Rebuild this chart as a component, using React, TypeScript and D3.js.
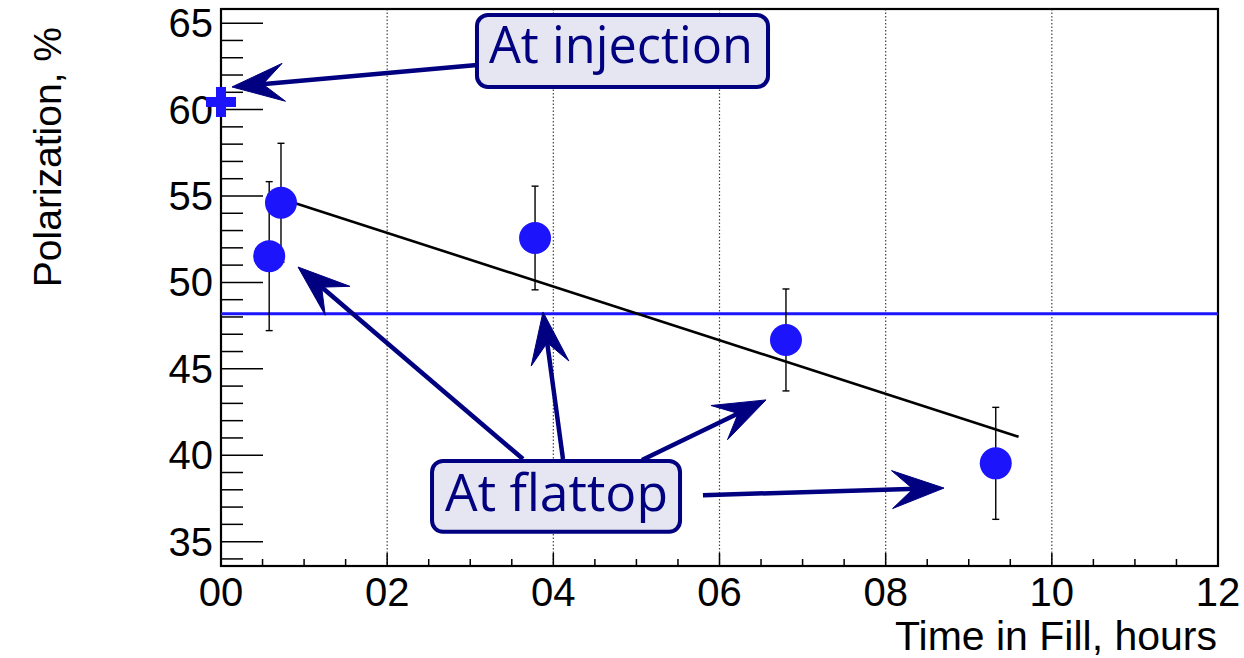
import React from "react";
import * as d3 from "d3";

// ---- data ----
const xTickValues = [0, 2, 4, 6, 8, 10, 12];
const xTickLabels = ["00", "02", "04", "06", "08", "10", "12"];
const yTickValues = [35, 40, 45, 50, 55, 60, 65];
const yTickLabels = ["35", "40", "45", "50", "55", "60", "65"];

const pointX = [0.58, 0.722, 3.78, 6.8, 9.325];
const pointY = [51.52, 54.61, 52.57, 46.67, 39.53];
const pointErr = [4.31, 3.44, 3.0, 2.95, 3.24];

const injectionX = [0];
const injectionY = [60.44];

const flattopLevel = [48.18];

const fitX = [0.56, 9.6];
const fitY = [55.1, 41.07];

// annotations (in data units: hours, %)
const boxes = [
  { label: "At injection", x0: 3.081, x1: 6.584, y0: 65.47, y1: 61.31, tx0: 3.225, tx1: 6.403, ty: 62.7 },
  { label: "At flattop", x0: 2.54, x1: 5.525, y0: 39.67, y1: 35.57, tx0: 2.696, tx1: 5.38, ty: 36.76 },
];
const arrows = [
  { fx: 3.081, fy: 62.58, tx: 0.132, ty: 61.31 },
  { fx: 3.635, fy: 39.78, tx: 0.927, ty: 50.89 },
  { fx: 4.116, fy: 39.78, tx: 3.876, ty: 48.29 },
  { fx: 5.067, fy: 39.72, tx: 6.56, ty: 43.2 },
  { fx: 5.801, fy: 37.69, tx: 8.702, ty: 38.1 },
];

const W = 1244;
const H = 658;
const L = 221, R = 1218, T = 9, B = 566;

export default function App() {
  const x = d3.scaleLinear().domain([0, 12]).range([L, R]);
  const y = d3.scaleLinear().domain([33.59, 65.82]).range([B, T]);

  const blue = "#1c14fb";
  const navy = "#000080";

  const xMinor = d3.range(0, 12.001, 0.5).filter((v) => Math.abs(v % 2) > 1e-6);
  const yMinor = d3.range(34, 65.5, 1).filter((v) => v % 5 !== 0);

  const line = d3.line<number>().x((_, i) => x(fitX[i])).y((_, i) => y(fitY[i]));

  const arrowHead = (a: typeof arrows[0]) => {
    const x1 = x(a.fx), y1 = y(a.fy), x2 = x(a.tx), y2 = y(a.ty);
    const dx = x2 - x1, dy = y2 - y1;
    const len = Math.hypot(dx, dy);
    const ux = dx / len, uy = dy / len;
    const nx = -uy, ny = ux;
    const Lh = 52, Wh = 19, N = 31;
    const bx = x2 - Lh * ux, by = y2 - Lh * uy;
    const mx = x2 - N * ux, my = y2 - N * uy;
    return {
      shaft: `M${x1},${y1}L${mx + 4 * ux},${my + 4 * uy}`,
      head: `M${x2},${y2}L${bx + Wh * nx},${by + Wh * ny}L${mx},${my}L${bx - Wh * nx},${by - Wh * ny}Z`,
    };
  };

  return (
    <svg width={W} height={H} style={{ position: "absolute", left: 0, top: 0, background: "#fff" }}
      fontFamily="'Liberation Sans', Arial, sans-serif">
      <rect x={0} y={0} width={W} height={H} fill="#fff" />
      {/* grid */}
      {xTickValues.slice(1, -1).map((v) => (
        <line key={"g" + v} x1={x(v)} x2={x(v)} y1={T} y2={B} stroke="#444" strokeWidth={1.2} strokeDasharray="1.5,2" />
      ))}
      {/* x ticks */}
      {xTickValues.map((v) => (
        <line key={"xt" + v} x1={x(v)} x2={x(v)} y1={B} y2={B - 13} stroke="#000" strokeWidth={1.5} />
      ))}
      {xMinor.map((v) => (
        <line key={"xm" + v} x1={x(v)} x2={x(v)} y1={B} y2={B - 7} stroke="#000" strokeWidth={1.5} />
      ))}
      {/* y ticks */}
      {yTickValues.map((v) => (
        <line key={"yt" + v} x1={L} x2={L + 42} y1={y(v)} y2={y(v)} stroke="#000" strokeWidth={1.5} />
      ))}
      {yMinor.map((v) => (
        <line key={"ym" + v} x1={L} x2={L + 22} y1={y(v)} y2={y(v)} stroke="#000" strokeWidth={1.5} />
      ))}
      {/* frame */}
      <rect x={L} y={T} width={R - L} height={B - T} fill="none" stroke="#000" strokeWidth={2.2} />
      {/* tick labels */}
      {xTickValues.map((v, i) => (
        <text key={"xl" + v} x={x(v)} y={606} textAnchor="middle" fontSize={40}>{xTickLabels[i]}</text>
      ))}
      {yTickValues.map((v, i) => (
        <text key={"yl" + v} x={213} y={y(v) + 14} textAnchor="end" fontSize={40}>{yTickLabels[i]}</text>
      ))}
      {/* axis titles */}
      <text x={1217} y={650} textAnchor="end" fontSize={41}>Time in Fill, hours</text>
      <text transform={`translate(61,27) rotate(-90)`} textAnchor="end" fontSize={39}>Polarization, %</text>

      {/* flattop level */}
      {flattopLevel.map((v, i) => (
        <line key={"fl" + i} x1={L} x2={R} y1={y(v)} y2={y(v)} stroke={blue} strokeWidth={3} />
      ))}
      {/* fit */}
      <path d={line(fitX) || ""} fill="none" stroke="#000" strokeWidth={2.6} />
      {/* error bars */}
      {pointX.map((v, i) => (
        <g key={"e" + i} stroke="#000" strokeWidth={1.4}>
          <line x1={x(v)} x2={x(v)} y1={y(pointY[i] + pointErr[i])} y2={y(pointY[i] - pointErr[i])} />
          <line x1={x(v) - 3.5} x2={x(v) + 3.5} y1={y(pointY[i] + pointErr[i])} y2={y(pointY[i] + pointErr[i])} />
          <line x1={x(v) - 3.5} x2={x(v) + 3.5} y1={y(pointY[i] - pointErr[i])} y2={y(pointY[i] - pointErr[i])} />
        </g>
      ))}
      {/* points */}
      {pointX.map((v, i) => (
        <circle key={"p" + i} cx={x(v)} cy={y(pointY[i])} r={16} fill={blue} />
      ))}
      {/* injection cross */}
      {injectionX.map((v, i) => (
        <g key={"c" + i} fill={blue}>
          <rect x={x(v) - 15} y={y(injectionY[i]) - 5} width={30} height={10} />
          <rect x={x(v) - 5} y={y(injectionY[i]) - 15} width={10} height={30} />
        </g>
      ))}

      {/* annotations */}
      {arrows.map((a, i) => {
        const p = arrowHead(a);
        return (
          <g key={"a" + i}>
            <path d={p.shaft} stroke={navy} strokeWidth={4.5} fill="none" />
            <path d={p.head} fill={navy} stroke={navy} strokeWidth={1} strokeLinejoin="miter" />
          </g>
        );
      })}
      {boxes.map((b, i) => (
        <g key={"b" + i}>
          <rect x={x(b.x0)} y={y(b.y0)} width={x(b.x1) - x(b.x0)} height={y(b.y1) - y(b.y0)}
            rx={11} ry={11} fill="#e6e6f2" stroke={navy} strokeWidth={4} />
          <text x={x(b.tx0)} y={y(b.ty)} fontSize={52} fill={navy} fontFamily="'Open Sans', sans-serif"
            textLength={x(b.tx1) - x(b.tx0)} lengthAdjust="spacingAndGlyphs">{b.label}</text>
        </g>
      ))}
    </svg>
  );
}
